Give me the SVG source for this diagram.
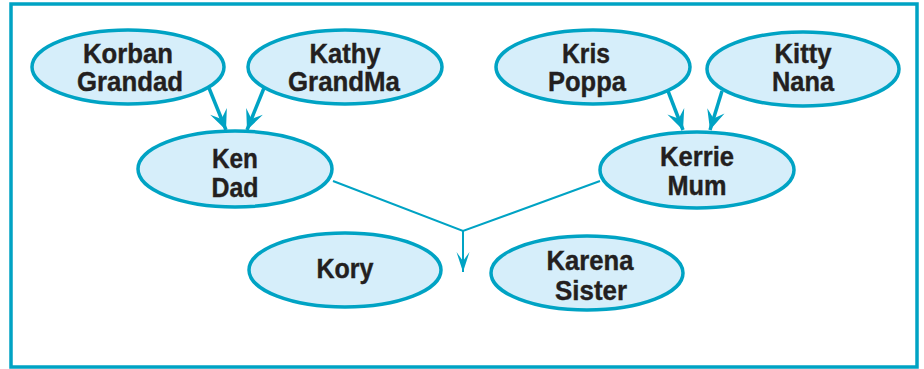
<svg xmlns="http://www.w3.org/2000/svg" width="924" height="369" viewBox="0 0 924 369">
<defs>
<style>
.frame{fill:#ffffff;stroke:#00A3C4;stroke-width:3.5}
.node ellipse{fill:#D6EEFA;stroke:#00A3C4;stroke-width:3.5}
.node text{font-family:"Liberation Sans",Arial,sans-serif;font-weight:bold;font-size:28px;fill:#231F20;stroke:#231F20;stroke-width:0.4;text-anchor:middle}
.edge{fill:none;stroke:#00A3C4;stroke-width:3.5}
.thin{fill:none;stroke:#00A3C4;stroke-width:2}
</style>
<marker id="ah" markerUnits="userSpaceOnUse" markerWidth="24" markerHeight="22" viewBox="-22 -11 24 22" refX="0" refY="0" orient="auto">
<path d="M0,0 L-20,-9 L-12,0 L-20,9 Z" fill="#00A3C4"/>
</marker>
<marker id="ahs" markerUnits="userSpaceOnUse" markerWidth="24" markerHeight="22" viewBox="-22 -11 24 22" refX="0" refY="0" orient="auto">
<path d="M0,0 L-20,-6.5 L-11,0 L-20,6.5 Z" fill="#00A3C4"/>
</marker>
</defs>
<rect class="frame" x="11" y="4" width="906" height="363"/>
<g id="connectors">
<line class="edge" x1="209" y1="88" x2="226" y2="130" marker-end="url(#ah)"/>
<line class="edge" x1="264" y1="88" x2="247" y2="130" marker-end="url(#ah)"/>
<line class="edge" x1="668" y1="91" x2="683" y2="130" marker-end="url(#ah)"/>
<line class="edge" x1="722" y1="91" x2="710" y2="130" marker-end="url(#ah)"/>
<polyline class="thin" points="333,181 463,231 600,181"/>
<line class="thin" x1="463" y1="231" x2="463" y2="272" marker-end="url(#ahs)"/>
</g>
<g id="korban" class="node">
<ellipse cx="128" cy="67" rx="96" ry="37"/>
<text x="128" y="63" textLength="90" lengthAdjust="spacingAndGlyphs">Korban</text>
<text x="130" y="91" textLength="106" lengthAdjust="spacingAndGlyphs">Grandad</text>
</g>
<g id="kathy" class="node">
<ellipse cx="345" cy="67" rx="97" ry="37"/>
<text x="345" y="63" textLength="71" lengthAdjust="spacingAndGlyphs">Kathy</text>
<text x="344" y="91" textLength="112" lengthAdjust="spacingAndGlyphs">GrandMa</text>
</g>
<g id="ken" class="node">
<ellipse cx="235" cy="169" rx="97" ry="38"/>
<text x="235" y="168" textLength="46" lengthAdjust="spacingAndGlyphs">Ken</text>
<text x="235" y="197" textLength="47" lengthAdjust="spacingAndGlyphs">Dad</text>
</g>
<g id="kris" class="node">
<ellipse cx="593" cy="67" rx="97" ry="37"/>
<text x="586" y="63" textLength="48" lengthAdjust="spacingAndGlyphs">Kris</text>
<text x="587" y="91" textLength="78" lengthAdjust="spacingAndGlyphs">Poppa</text>
</g>
<g id="kitty" class="node">
<ellipse cx="803" cy="69" rx="96" ry="37"/>
<text x="803" y="63" textLength="57" lengthAdjust="spacingAndGlyphs">Kitty</text>
<text x="803" y="91" textLength="62" lengthAdjust="spacingAndGlyphs">Nana</text>
</g>
<g id="kerrie" class="node">
<ellipse cx="697" cy="170" rx="97" ry="38"/>
<text x="697" y="166" textLength="74" lengthAdjust="spacingAndGlyphs">Kerrie</text>
<text x="697" y="195" textLength="59" lengthAdjust="spacingAndGlyphs">Mum</text>
</g>
<g id="kory" class="node">
<ellipse cx="345" cy="270" rx="96" ry="37"/>
<text x="345" y="278" textLength="57" lengthAdjust="spacingAndGlyphs">Kory</text>
</g>
<g id="karena" class="node">
<ellipse cx="587" cy="273" rx="96" ry="37"/>
<text x="590" y="270" textLength="87" lengthAdjust="spacingAndGlyphs">Karena</text>
<text x="591" y="300" textLength="72" lengthAdjust="spacingAndGlyphs">Sister</text>
</g>
</svg>
